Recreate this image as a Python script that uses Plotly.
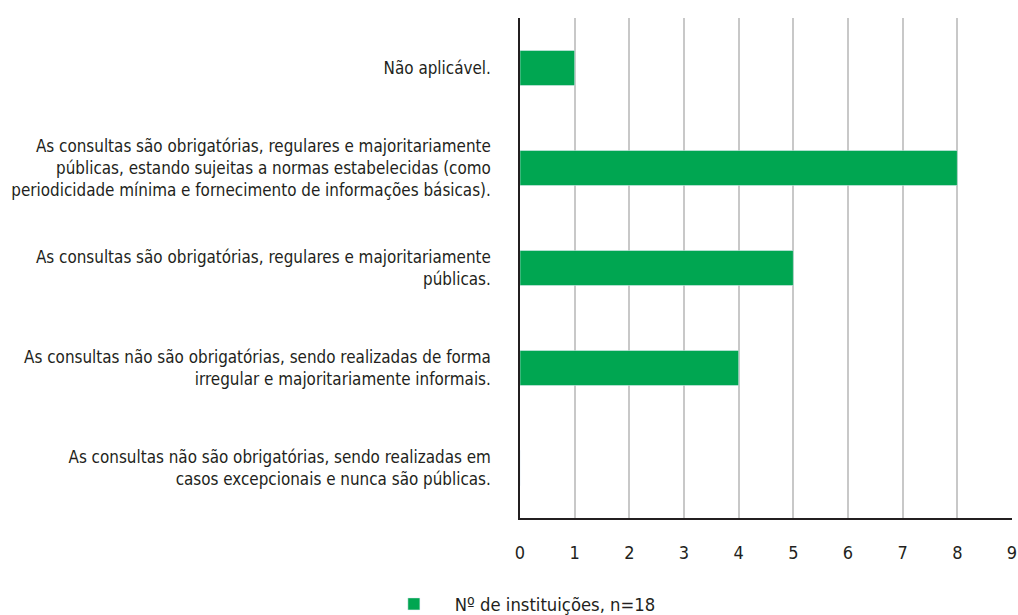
import plotly.graph_objects as go

categories = [
    "Não aplicável.",
    "As consultas são obrigatórias, regulares e majoritariamente<br>públicas, estando sujeitas a normas estabelecidas (como<br>periodicidade mínima e fornecimento de informações básicas).",
    "As consultas são obrigatórias, regulares e majoritariamente<br>públicas.",
    "As consultas não são obrigatórias, sendo realizadas de forma<br>irregular e majoritariamente informais.",
    "As consultas não são obrigatórias, sendo realizadas em<br>casos excepcionais e nunca são públicas.",
]
values = [1, 8, 5, 4, 0]
series_name = "\u00a0\u00a0\u00a0\u00a0Nº de instituições, n=18"
x_ticks = list(range(0, 10))

FONT = "DejaVu Sans Condensed, Liberation Sans Narrow, sans-serif"

fig = go.Figure()
fig.add_trace(go.Bar(
    y=categories,
    x=values,
    orientation="h",
    name=series_name,
    marker=dict(color="#00A651"),
    width=0.35,
    showlegend=True,
))

fig.update_layout(
    width=1018,
    height=615,
    margin=dict(l=520, r=6, t=18, b=97, autoexpand=False),
    paper_bgcolor="white",
    plot_bgcolor="white",
    font=dict(family=FONT, size=16.9, color="#231F20"),
    showlegend=True,
    legend=dict(
        orientation="h",
        x=0.015, xref="paper",
        y=-0.172, yref="paper",
        xanchor="center", yanchor="middle",
        font=dict(size=18.3),
    ),
    xaxis=dict(
        range=[0, 9],
        tickvals=x_ticks,
        showgrid=True,
        gridcolor="#C8C8C8",
        gridwidth=1.5,
        zeroline=False,
        showline=True,
        linecolor="#231F20",
        linewidth=1.5,
        ticks="",
        ticklabelstandoff=18,
        ticklabeloverflow="allow",
        tickfont=dict(size=18),
        automargin=False,
    ),
    yaxis=dict(
        autorange="reversed",
        showline=True,
        linecolor="#231F20",
        linewidth=1.5,
        showgrid=False,
        ticks="",
        ticklabelstandoff=24,
        tickfont=dict(size=16.9),
        automargin=False,
    ),
)

fig.write_html(
    "out.html",
    config={"displayModeBar": False},
    post_script="document.body.style.margin='0';document.body.style.overflow='hidden';",
)
